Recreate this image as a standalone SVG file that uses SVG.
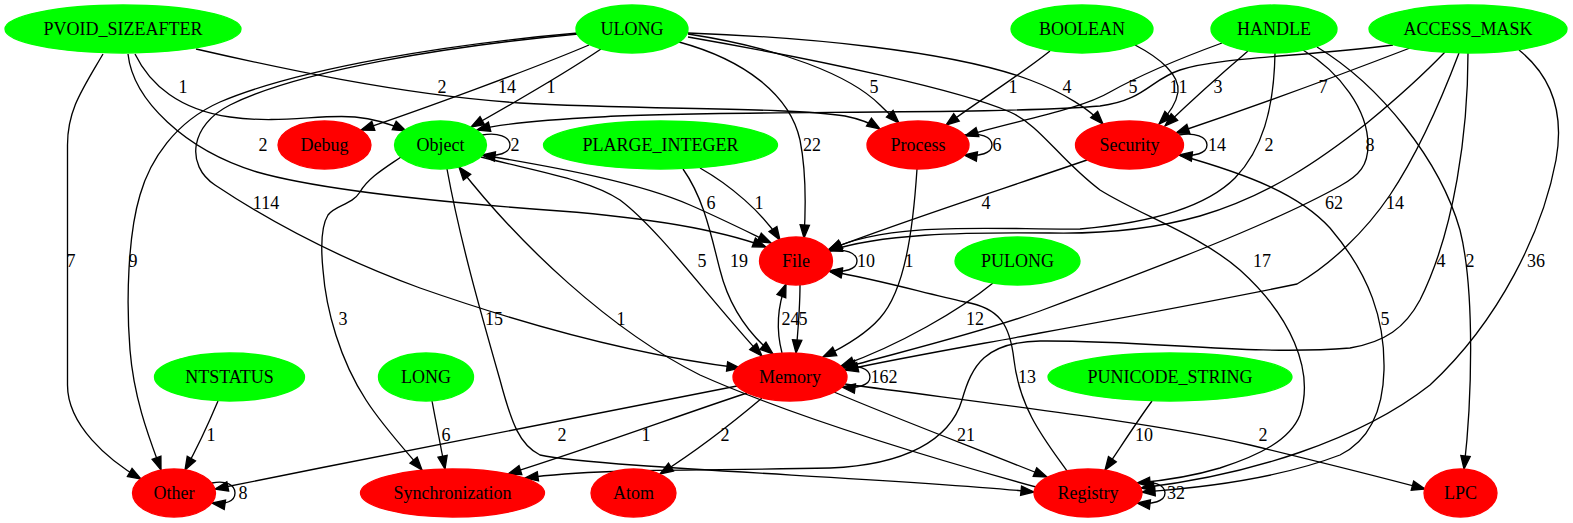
<svg xmlns="http://www.w3.org/2000/svg" width="1573" height="523" viewBox="0 0 1573 523">
<style>
text{font-family:"Liberation Serif","Times New Roman",serif;font-size:18px;text-anchor:middle;fill:#000}
.g ellipse{fill:#00ff00;stroke:#00ff00;stroke-width:1.33}
.r ellipse{fill:#ff0000;stroke:#ff0000;stroke-width:1.33}
#edges path{fill:none;stroke:#000;stroke-width:1.33;marker-end:url(#ah)}
</style>
<defs>
<marker id="ah" markerUnits="userSpaceOnUse" markerWidth="16" markerHeight="12" refX="14" refY="6" orient="auto" overflow="visible"><path d="M1,1.33 L14,6 L1,10.67 z" fill="#000" stroke="#000" stroke-width="1.33"/></marker>
</defs>
<rect width="1573" height="523" fill="#fff"/>
<g id="edges">
<g id="e_pvoid_other"><path d="M103,54 C82,90 67.5,110 67.5,145 L67.5,385 C67.5,425 108,460 141,479"/><text x="71" y="267">7</text></g>
<g id="e_ulong_other"><path d="M578,33 C450,44 300,68 220,102 C175,122 150,160 140,195 C128,235 126,300 130,350 C134,400 150,440 161,470"/><text x="133" y="267">9</text></g>
<g id="e_ulong_memory"><path d="M578,34 C450,46 300,70 230,105 C190,125 185,165 215,185 C260,215 330,255 420,288 C540,330 650,357 740,368"/><text x="266" y="209">114</text></g>
<g id="e_pvoid_object"><path d="M135,54 C150,85 180,110 230,117 C280,124 320,114 355,117 C378,119 393,125 406,131"/><text x="183" y="93">1</text></g>
<g id="e_pvoid_process"><path d="M196,49 C270,66 400,95 520,103 C640,110 790,107 845,116 C860,119 872,124 880,129"/><text x="442" y="93">2</text></g>
<g id="e_pvoid_file"><path d="M128,54 C133,100 185,150 257,172 C320,190 450,203 560,211 C650,218 720,230 766,247"/><text x="263" y="151">2</text></g>
<g id="e_ulong_debug"><path d="M589,45 C530,70 420,110 361,130"/><text x="507" y="93">14</text></g>
<g id="e_ulong_object"><path d="M601,49 C570,70 510,105 471,127"/><text x="551" y="93">1</text></g>
<g id="e_ulong_file"><path d="M679,42 C745,60 790,95 800,140 C806,170 806,205 804,238"/><text x="812" y="151">22</text></g>
<g id="e_ulong_process"><path d="M688,34 C780,48 850,75 880,105 C888,113 894,118 899,123"/><text x="874" y="93">5</text></g>
<g id="e_ulong_security"><path d="M688,33 C800,37 950,50 1030,80 C1065,93 1090,110 1103,124"/><text x="1067" y="93">4</text></g>
<g id="e_ulong_registry"><path d="M688,37 C820,60 960,90 1010,112 C1040,125 1060,160 1100,190 C1140,215 1200,235 1240,270 C1290,315 1315,370 1300,415 C1290,440 1260,455 1220,468 C1190,477 1160,481 1137,483"/><text x="1262" y="267">17</text></g>
<g id="e_boolean_process"><path d="M1050,51 C1020,75 980,100 946,125"/><text x="1013" y="93">1</text></g>
<g id="e_boolean_security"><path d="M1135,45 C1160,58 1180,75 1178,92 C1176,105 1168,115 1159,124"/><text x="1183" y="93">1</text></g>
<g id="e_handle_process"><path d="M1222,43 C1170,62 1135,78 1110,92 C1080,110 1010,122 965,136"/><text x="1133" y="93">5</text></g>
<g id="e_access_object"><path d="M1393,45 C1300,57 1220,57 1180,70 C1150,80 1145,100 1100,106 C1000,115 700,110 600,117 C540,120 500,124 477,130"/><text x="1174" y="93">1</text></g>
<g id="e_handle_security"><path d="M1248,51 C1220,75 1190,102 1165,126"/><text x="1218" y="93">3</text></g>
<g id="e_access_security"><path d="M1410,48 C1340,75 1250,108 1176,133"/><text x="1323" y="93">7</text></g>
<g id="e_handle_file"><path d="M1275,53 C1274,110 1262,150 1235,178 C1210,203 1160,222 1080,229 C1000,230 890,220 829,250"/><text x="1269" y="151">2</text></g>
<g id="e_access_file"><path d="M1445,52 C1420,78 1395,100 1367,123 C1320,160 1270,195 1200,216 C1150,230 1100,234 1050,233 C960,232 880,234 829,251"/><text x="1370" y="151">8</text></g>
<g id="e_handle_memory"><path d="M1303,50 C1340,72 1368,110 1368,145 C1368,165 1360,175 1340,186 C1270,225 1150,270 1040,311 C980,333 900,352 843,368"/><text x="1334" y="209">62</text></g>
<g id="e_access_memory"><path d="M1459,53 C1445,90 1420,150 1390,195 C1365,232 1330,265 1297,284 C1230,298 1100,322 1040,333 C970,346 900,358 845,370"/><text x="1395" y="209">14</text></g>
<g id="e_handle_lpc"><path d="M1317,47 C1380,85 1440,160 1460,230 C1475,290 1472,400 1464,469"/><text x="1470" y="267">2</text></g>
<g id="e_access_sync"><path d="M1468,53 C1468,130 1455,230 1420,300 C1405,328 1385,342 1350,348 C1250,356 1150,340 1040,341 C985,342 972,365 962,400 C950,440 905,465 830,468 C700,471 600,468 525,478"/><text x="1441" y="267">4</text></g>
<g id="e_access_registry"><path d="M1519,50 C1550,75 1565,110 1556,160 C1543,230 1500,320 1430,385 C1360,440 1250,475 1141,488"/><text x="1536" y="267">36</text></g>
<g id="e_security_registry"><path d="M1179,155 C1250,175 1300,195 1330,228 C1370,275 1385,320 1384,370 C1383,410 1370,440 1340,455 C1280,478 1200,488 1142,492"/><text x="1385" y="325">5</text></g>
<g id="e_security_file"><path d="M1087,160 C1000,190 900,222 828,250"/><text x="986" y="209">4</text></g>
<g id="e_process_memory"><path d="M917,169 C913,230 905,290 880,318 C866,334 846,346 823,357"/><text x="909" y="267">1</text></g>
<g id="e_plarge_file"><path d="M700,168 C730,185 762,212 780,240"/><text x="759" y="209">1</text></g>
<g id="e_plarge_memory"><path d="M683,169 C705,200 712,240 720,270 C730,310 750,335 773,354"/><text x="739" y="267">19</text></g>
<g id="e_object_memory"><path d="M481,157 C540,172 590,180 620,200 C660,230 710,300 762,356"/><text x="702" y="267">5</text></g>
<g id="e_object_file"><path d="M482,155 C560,168 640,183 690,205 C720,218 748,232 771,243"/><text x="711" y="209">6</text></g>
<g id="e_object_sync"><path d="M401,157 C385,168 368,178 360,192 C352,205 335,205 328,215 C320,228 321,250 323,270 C326,310 340,360 366,400 C382,425 405,450 422,470"/><text x="343" y="325">3</text></g>
<g id="e_object_registry"><path d="M447,169 C460,240 480,310 500,380 C512,425 520,445 540,455 C600,468 900,478 1034,492"/><text x="494" y="325">15</text></g>
<g id="e_registry_object"><path d="M1036,487 C920,455 790,415 700,375 C610,330 520,245 459,167"/><text x="621" y="325">1</text></g>
<g id="e_registry_file"><path d="M1067,471 C1045,440 1020,410 1014,360 C1010,325 1000,308 965,302 C920,292 880,280 829,271"/><text x="1027" y="383">13</text></g>
<g id="e_memory_file"><path d="M782,353 C776,330 778,305 786,284"/><text x="790.5" y="325">24</text></g>
<g id="e_file_memory"><path d="M800,285 C800,310 798,330 796,353"/><text x="803" y="325">5</text></g>
<g id="e_pulong_memory"><path d="M993,283 C960,310 900,345 841,366"/><text x="975" y="325">12</text></g>
<g id="e_ntstatus_other"><path d="M218,401 C210,420 195,452 185,470"/><text x="211" y="441">1</text></g>
<g id="e_long_sync"><path d="M432,401 C436,422 441,448 445,469"/><text x="446" y="441">6</text></g>
<g id="e_memory_other"><path d="M737,386 C600,412 400,452 215,489"/><text x="562" y="441">2</text></g>
<g id="e_memory_sync"><path d="M747,393 C680,415 600,445 508,474"/><text x="646" y="441">1</text></g>
<g id="e_memory_atom"><path d="M762,398 C730,425 690,455 660,474"/><text x="725" y="441">2</text></g>
<g id="e_memory_registry"><path d="M834,392 C900,420 980,450 1047,477"/><text x="966" y="441">21</text></g>
<g id="e_memory_lpc"><path d="M845,384 C1000,405 1150,422 1250,445 C1320,462 1380,477 1425,489"/><text x="1263" y="441">2</text></g>
<g id="e_punicode_registry"><path d="M1152,401 C1138,420 1120,448 1105,470"/><text x="1144" y="441">10</text></g>
<g id="e_object_loop"><path d="M482,135 C498,132 510,137 510,145 C510,153 498,157 482,155"/><text x="515" y="151">2</text></g>
<g id="e_process_loop"><path d="M964,135 C980,132 992,137 992,145 C992,153 980,157 964,155"/><text x="997" y="151">6</text></g>
<g id="e_security_loop"><path d="M1179,135 C1195,132 1207,137 1207,145 C1207,153 1195,157 1179,155"/><text x="1217" y="151">14</text></g>
<g id="e_file_loop"><path d="M829,251 C845,248 857,253 857,261 C857,269 845,273 829,271"/><text x="866" y="267">10</text></g>
<g id="e_memory_loop"><path d="M842,367 C858,364 870,369 870,377 C870,385 858,389 842,387"/><text x="884" y="383">162</text></g>
<g id="e_other_loop"><path d="M212,483 C226,480 235,485 235,493 C235,501 226,505 212,503"/><text x="243" y="499">8</text></g>
<g id="e_registry_loop"><path d="M1137,483 C1153,480 1165,485 1165,493 C1165,501 1153,505 1137,503"/><text x="1176" y="499">32</text></g>
</g>
<g id="nodes">
<g id="n_pvoid" class="g"><ellipse cx="123" cy="29" rx="118" ry="24"/><text x="123" y="35">PVOID_SIZEAFTER</text></g>
<g id="n_ulong" class="g"><ellipse cx="632" cy="29" rx="56" ry="24"/><text x="632" y="35">ULONG</text></g>
<g id="n_boolean" class="g"><ellipse cx="1082" cy="29" rx="71" ry="24"/><text x="1082" y="35">BOOLEAN</text></g>
<g id="n_handle" class="g"><ellipse cx="1274" cy="29" rx="63" ry="24"/><text x="1274" y="35">HANDLE</text></g>
<g id="n_access" class="g"><ellipse cx="1468" cy="29" rx="99" ry="24"/><text x="1468" y="35">ACCESS_MASK</text></g>
<g id="n_debug" class="r"><ellipse cx="324.5" cy="145" rx="46.5" ry="24"/><text x="324.5" y="151">Debug</text></g>
<g id="n_object" class="g"><ellipse cx="440.5" cy="145" rx="46" ry="24"/><text x="440.5" y="151">Object</text></g>
<g id="n_plarge" class="g"><ellipse cx="660.5" cy="145" rx="117" ry="24"/><text x="660.5" y="151">PLARGE_INTEGER</text></g>
<g id="n_process" class="r"><ellipse cx="918" cy="145" rx="51" ry="24"/><text x="918" y="151">Process</text></g>
<g id="n_security" class="r"><ellipse cx="1129.5" cy="145" rx="54" ry="24"/><text x="1129.5" y="151">Security</text></g>
<g id="n_file" class="r"><ellipse cx="796" cy="261" rx="36.5" ry="24"/><text x="796" y="267">File</text></g>
<g id="n_pulong" class="g"><ellipse cx="1017.5" cy="261" rx="62.5" ry="24"/><text x="1017.5" y="267">PULONG</text></g>
<g id="n_ntstatus" class="g"><ellipse cx="229.5" cy="377" rx="75" ry="24"/><text x="229.5" y="383">NTSTATUS</text></g>
<g id="n_long" class="g"><ellipse cx="426" cy="377" rx="47.5" ry="24"/><text x="426" y="383">LONG</text></g>
<g id="n_memory" class="r"><ellipse cx="790" cy="377" rx="57" ry="24"/><text x="790" y="383">Memory</text></g>
<g id="n_punicode" class="g"><ellipse cx="1170" cy="377" rx="122" ry="24"/><text x="1170" y="383">PUNICODE_STRING</text></g>
<g id="n_other" class="r"><ellipse cx="174" cy="493" rx="41.5" ry="24"/><text x="174" y="499">Other</text></g>
<g id="n_sync" class="r"><ellipse cx="452.5" cy="493" rx="92" ry="24"/><text x="452.5" y="499">Synchronization</text></g>
<g id="n_atom" class="r"><ellipse cx="633.5" cy="493" rx="42.5" ry="24"/><text x="633.5" y="499">Atom</text></g>
<g id="n_registry" class="r"><ellipse cx="1088" cy="493" rx="54" ry="24"/><text x="1088" y="499">Registry</text></g>
<g id="n_lpc" class="r"><ellipse cx="1460.5" cy="493" rx="36.5" ry="24"/><text x="1460.5" y="499">LPC</text></g>
</g>
</svg>
